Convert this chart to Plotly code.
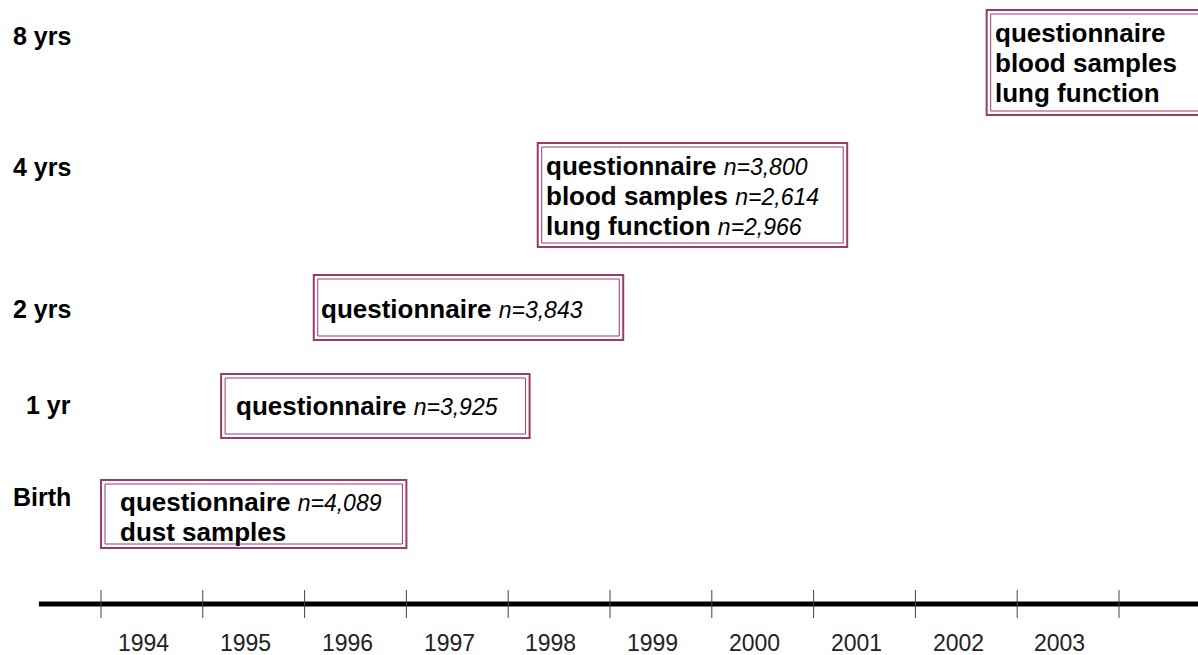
import plotly.graph_objects as go

# data
WAVES = ["Birth", "1 yr", "2 yrs", "4 yrs", "8 yrs"]
BOX_START = [1994.0, 1995.18, 1996.09, 1998.29, 2002.70]
BOX_END = [1997.0, 1998.21, 1999.13, 2001.33, 2005.0]
ITEMS = [
    ["questionnaire", "dust samples"],
    ["questionnaire"],
    ["questionnaire"],
    ["questionnaire", "blood samples", "lung function"],
    ["questionnaire", "blood samples", "lung function"],
]
COUNTS = [
    ["4,089", None],
    ["3,925"],
    ["3,843"],
    ["3,800", "2,614", "2,966"],
    [None, None, None],
]
YEARS = [1994, 1995, 1996, 1997, 1998, 1999, 2000, 2001, 2002, 2003]
TICK_YEARS = YEARS + [2004]

# layout (vertical axis is in screen-height units, top = 0)
W, H = 1198, 655
PX_PER_YEAR = 101.8
X_MIN = 1994 - 101 / PX_PER_YEAR
X_MAX = X_MIN + W / PX_PER_YEAR
ROW_LABEL_Y = [497, 405, 309, 167, 36]
BOX_TOP = [480, 374, 275, 143, 10]
BOX_BOTTOM = [548, 438, 340, 247, 115]
FIRST_LINE_Y = [502, 406, 309, 166, 33]
LINE_STEP = 30
TEXT_PAD = [17, 13, 5, 6, 6]
AXIS_Y = 604
LABEL_Y = 643

BOX_COLOR = "#9c3a6c"
FONT = "Arial, Liberation Sans, sans-serif"

fig = go.Figure()

# timeline axis
fig.add_trace(go.Scatter(
    x=[1993.39, X_MAX + 0.5], y=[AXIS_Y, AXIS_Y], mode="lines",
    line=dict(color="black", width=5), hoverinfo="skip",
))
fig.add_trace(go.Scatter(
    x=TICK_YEARS, y=[AXIS_Y] * len(TICK_YEARS), mode="markers",
    marker=dict(symbol="line-ns", size=20, line=dict(color="#444444", width=1)),
    hoverinfo="skip",
))

for yr in YEARS:
    fig.add_annotation(
        x=yr + 0.42, y=LABEL_Y, text=str(yr), showarrow=False,
        font=dict(size=23, color="#222222", family=FONT),
        xanchor="center", yanchor="middle",
    )

inset_x = 4 / PX_PER_YEAR
for i, wave in enumerate(WAVES):
    fig.add_annotation(
        x=73 / W, xref="paper", y=ROW_LABEL_Y[i], text=f"<b>{wave}</b>",
        showarrow=False, xanchor="right", yanchor="middle",
        font=dict(size=25, color="black", family=FONT),
    )
    # double border
    fig.add_shape(
        type="rect", x0=BOX_START[i], x1=BOX_END[i], y0=BOX_TOP[i], y1=BOX_BOTTOM[i],
        line=dict(color=BOX_COLOR, width=2), fillcolor="white", layer="below",
    )
    fig.add_shape(
        type="rect", x0=BOX_START[i] + inset_x, x1=BOX_END[i] - inset_x,
        y0=BOX_TOP[i] + 4, y1=BOX_BOTTOM[i] - 4,
        line=dict(color=BOX_COLOR, width=1), layer="below",
    )
    for j, item in enumerate(ITEMS[i]):
        txt = f"<b>{item}</b>"
        if COUNTS[i][j]:
            txt += f" <span style='font-size:23px'><i>n={COUNTS[i][j]}</i></span>"
        fig.add_annotation(
            x=BOX_START[i], xshift=TEXT_PAD[i], y=FIRST_LINE_Y[i] + j * LINE_STEP,
            text=txt, showarrow=False, xanchor="left", yanchor="middle",
            font=dict(size=26, color="black", family=FONT),
        )

fig.update_layout(
    width=W, height=H,
    margin=dict(l=0, r=0, t=0, b=0),
    paper_bgcolor="white", plot_bgcolor="white",
    showlegend=False,
    xaxis=dict(range=[X_MIN, X_MAX], visible=False, fixedrange=True),
    yaxis=dict(range=[H, 0], visible=False, fixedrange=True),
)

fig.write_html(
    "out.html",
    config={"displayModeBar": False},
    post_script="document.body.style.margin='0';",
)
